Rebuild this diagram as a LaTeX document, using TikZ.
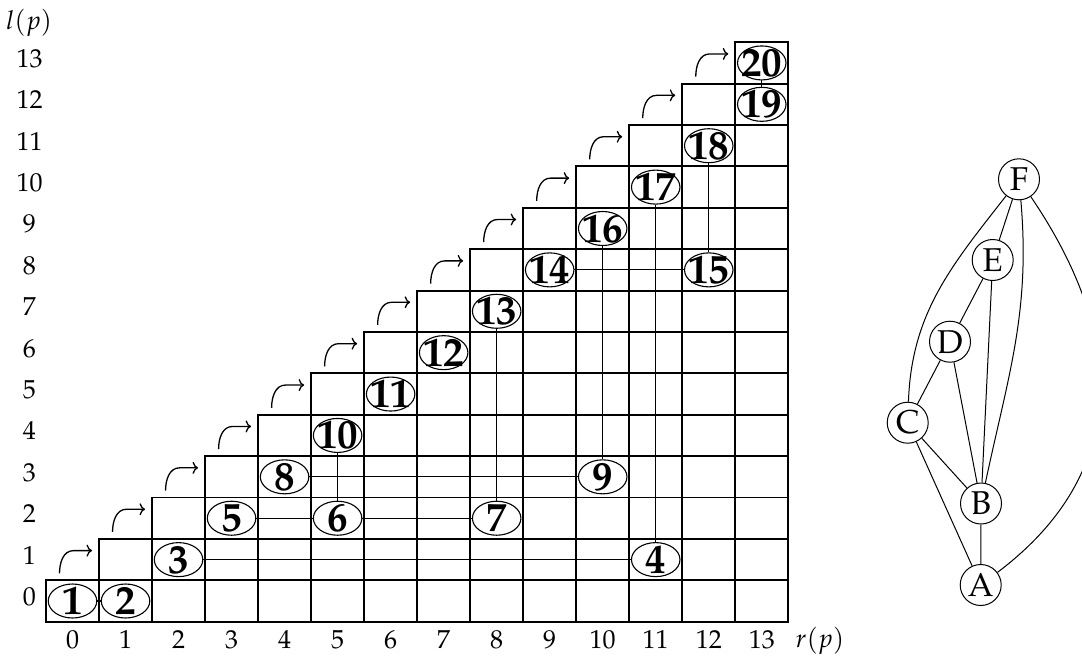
\documentclass[tikz,border=0pt]{standalone}
\usepackage[T1]{fontenc}
\usepackage{mathpazo}
\usetikzlibrary{arrows.meta,shapes.geometric}
\newcommand\GX[1]{(46+53.02*(#1))}
\newcommand\GY[1]{(-621.7+41.39*(#1))}
\tikzset{
  gridline/.style={line width=1.9pt},
  conn/.style={line width=1.2pt},
  cellnode/.style={ellipse, draw, line width=1.1pt, fill=white, minimum width=48.5pt, minimum height=34pt, inner sep=0pt},
  numlabel/.style={font=\fontsize{41}{41}\selectfont\bfseries, inner sep=0pt},
  axlab/.style={font=\fontsize{26}{30}\selectfont, inner sep=0pt},
  gnode/.style={circle, draw, line width=1pt, fill=white, minimum size=41pt, inner sep=0pt, font=\fontsize{33}{33}\selectfont},
  gedge/.style={line width=1pt},
  hook/.style={line width=1.3pt, -{To[length=5.5pt,width=12pt]}}
}
\begin{document}
\begin{tikzpicture}[x=1pt,y=1pt]
\path[use as bounding box, clip] (0,0) rectangle (1082,-656);
% grid
\foreach \l in {0,...,13}{
  \foreach \c in {\l,...,13}{
    \draw[gridline] ({\GX{\c}},{\GY{\l}}) rectangle ({\GX{\c+1}},{\GY{\l+1}});
  }
}
% hook arrows
\foreach \l in {1,...,13}{
  \pgfmathsetmacro\hsx{46+53.02*\l-39.5}
  \pgfmathsetmacro\hsy{-621.7+41.39*\l+7}
  \pgfmathsetmacro\hmx{46+53.02*\l-25.5}
  \pgfmathsetmacro\hty{-621.7+41.39*(\l+0.5)+9}
  \pgfmathsetmacro\htx{46+53.02*\l-7}
  \coordinate (hs\l) at (\hsx,\hsy);
  \coordinate (hm\l) at (\hmx,\hty);
  \coordinate (ht\l) at (\htx,\hty);
  \draw[hook] (hs\l) to[out=90,in=180] (hm\l) -- (ht\l);
}
% axis labels
\foreach \l in {0,...,13}{
  \node[axlab, anchor=base] (ly\l) at (29.5,{\GY{\l+0.5}-4.4}) {\l};
  \node[axlab, anchor=base] (rx\l) at ({\GX{\l+0.5}},-648.3) {\l};
}
\node[axlab, anchor=base] (lp) at (29,-29.5) {$l(p)$};
\node[axlab, anchor=base] (rp) at (820,-647.5) {$r(p)$};
% cell nodes
\foreach \n/\c/\l in {1/0/0, 2/1/0, 3/2/1, 4/11/1, 5/3/2, 6/5/2, 7/8/2, 8/4/3, 9/10/3, 10/5/4, 11/6/5, 12/7/6, 13/8/7, 14/9/8, 15/12/8, 16/10/9, 17/11/10, 18/12/11, 19/13/12, 20/13/13}{
  \node[cellnode, label={[numlabel]center:\n}] (n\n) at ({\GX{\c+0.5}},{\GY{\l+0.5}}) {};
}
\draw[conn] (n1)--(n2) (n3)--(n4) (n5)--(n6) (n6)--(n7) (n8)--(n9) (n14)--(n15)
  (n6)--(n10) (n7)--(n13) (n9)--(n16) (n4)--(n17) (n15)--(n18) (n19)--(n20);
% graph
\node[gnode] (F) at (1019,-179.3) {F};
\node[gnode] (E) at (992.7,-260) {E};
\node[gnode] (D) at (950,-341.7) {D};
\node[gnode] (C) at (907.7,-422.7) {C};
\node[gnode] (B) at (981,-503.5) {B};
\node[gnode] (A) at (980.7,-585) {A};
\draw[gedge] (F) -- (E);
\draw[gedge] (E) -- (D);
\draw[gedge] (D) -- (C);
\draw[gedge] (E) -- (B);
\draw[gedge] (D) -- (B);
\draw[gedge] (C) -- (B);
\draw[gedge] (C) -- (A);
\draw[gedge] (B) -- (A);
\draw[gedge] (F) to[out=-128,in=88] (C);
\draw[gedge] (F) to[out=-85,in=78] (B);
\draw[gedge] (F) .. controls (1135,-350) and (1120,-480) .. (A);
\end{tikzpicture}
\end{document}
